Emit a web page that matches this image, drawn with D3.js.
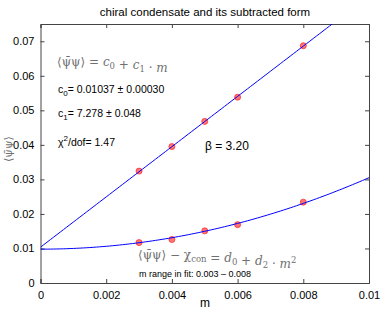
<!DOCTYPE html>
<html>
<head>
<meta charset="utf-8">
<script src="https://cdn.jsdelivr.net/npm/d3@7"></script>
<style>
  body { margin: 0; background: #fff; }
  text { font-family: "Liberation Sans", Arial, sans-serif; fill: #000; }
  .math { font-family: "DejaVu Serif", "Liberation Serif", serif; fill: #707070; }
</style>
</head>
<body>
<script>
// data
const masses = [0.003, 0.004, 0.005, 0.006, 0.008];
const condensate = [0.0324, 0.0395, 0.0468, 0.0538, 0.0687];
const subtracted = [0.0117, 0.0126, 0.0151, 0.0169, 0.0234];
const linearFit = [0.01037, 7.278];   // c0, c1
const quadFit = [0.0098, 207];        // d0, d2
const xTicks = [0, 0.002, 0.004, 0.006, 0.008, 0.01];
const yTicks = [0, 0.01, 0.02, 0.03, 0.04, 0.05, 0.06, 0.07];

const width = 382, height = 312;
const margin = {top: 24, right: 13, bottom: 29, left: 40.5};

const x = d3.scaleLinear().domain([0, 0.01]).range([margin.left, width - margin.right]);
const y = d3.scaleLinear().domain([0, 0.075]).range([height - margin.bottom, margin.top]);

const svg = d3.select("body").append("svg")
    .attr("width", width)
    .attr("height", height);

svg.append("clipPath").attr("id", "clip")
  .append("rect")
    .attr("x", x(0)).attr("y", y(0.075))
    .attr("width", x(0.01) - x(0)).attr("height", y(0) - y(0.075));

// axes with inward ticks on all four sides
const fmt = d => d === 0 ? "0" : d3.format("")(+d.toFixed(3));
svg.append("g")
    .attr("transform", "translate(0," + y(0) + ")")
    .call(d3.axisBottom(x).tickValues(xTicks).tickSize(-4).tickPadding(8).tickFormat(fmt));
svg.append("g")
    .attr("transform", "translate(" + x(0) + ",0)")
    .call(d3.axisLeft(y).tickValues(yTicks).tickSize(-4).tickPadding(6).tickFormat(fmt));
svg.append("g")
    .attr("transform", "translate(0," + y(0.075) + ")")
    .call(d3.axisTop(x).tickValues(xTicks).tickSize(-4).tickFormat(""));
svg.append("g")
    .attr("transform", "translate(" + x(0.01) + ",0)")
    .call(d3.axisRight(y).tickValues(yTicks).tickSize(-4).tickFormat(""));

svg.selectAll(".domain").attr("stroke", "#444");
svg.selectAll(".tick line").attr("stroke", "#444");
svg.selectAll(".tick text").style("font-size", "11px").attr("fill", "#000");

// data points
[condensate, subtracted].forEach(series => {
  svg.append("g").selectAll("circle")
    .data(series)
    .enter()
    .append("circle")
      .attr("cx", (d, i) => x(masses[i]))
      .attr("cy", d => y(d))
      .attr("r", 3)
      .attr("fill", "rgba(255,60,60,0.7)")
      .attr("stroke", "#ff3030")
      .attr("stroke-width", 0.8);
});

// fit curves, drawn over the points
const mGrid = d3.range(0, 0.01 + 1e-9, 0.0001);
const line = d3.line().x(d => x(d[0])).y(d => y(d[1]));
const fits = svg.append("g").attr("clip-path", "url(#clip)");
fits.append("path")
    .datum(mGrid.map(m => [m, linearFit[0] + linearFit[1] * m]))
    .attr("d", line)
    .attr("fill", "none").attr("stroke", "#0000ff").attr("stroke-width", 1);
fits.append("path")
    .datum(mGrid.map(m => [m, quadFit[0] + quadFit[1] * m * m]))
    .attr("d", line)
    .attr("fill", "none").attr("stroke", "#0000ff").attr("stroke-width", 1);

// title and axis labels
svg.append("text")
    .attr("x", 205).attr("y", 16)
    .style("text-anchor", "middle").style("font-size", "11.5px")
    .text("chiral condensate and its subtracted form");
svg.append("text")
    .attr("x", 205).attr("y", 307)
    .style("text-anchor", "middle").style("font-size", "12px")
    .text("m");
svg.append("text")
    .attr("class", "math")
    .attr("transform", "translate(12,149) rotate(-90)")
    .style("text-anchor", "middle").style("font-size", "11px")
    .text("⟨ψ̄ψ⟩");

// annotations
function sub(t, s) {
  t.append("tspan").attr("dy", 3).style("font-size", "8.5px").text(s);
  t.append("tspan").attr("dy", -3).text("");
}
const upper = svg.append("text").attr("class", "math")
    .attr("x", 57).attr("y", 66).style("font-size", "12px");
upper.append("tspan").text("⟨ψ̄ψ⟩ = ");
upper.append("tspan").attr("font-style", "italic").text("c");
sub(upper, "0");
upper.append("tspan").text(" + ");
upper.append("tspan").attr("font-style", "italic").text("c");
sub(upper, "1");
upper.append("tspan").text(" · ");
upper.append("tspan").attr("font-style", "italic").text("m");

function param(yPos, sym, subText, rest, sup) {
  const t = svg.append("text").attr("x", 58).attr("y", yPos).style("font-size", "10.5px");
  t.append("tspan").text(sym);
  if (subText) t.append("tspan").attr("dy", 3).style("font-size", "8px").text(subText);
  if (sup) t.append("tspan").attr("dy", -5).style("font-size", "8px").text(sup);
  t.append("tspan").attr("dy", subText ? -3 : 5).text(rest);
}
param(93, "c", "0", "=  0.01037 ± 0.00030");
param(117, "c", "1", "=  7.278 ± 0.048");
param(146, "χ", null, "/dof= 1.47", "2");

svg.append("text")
    .attr("x", 205).attr("y", 150).style("font-size", "12px")
    .text("β = 3.20");

const lower = svg.append("text").attr("class", "math")
    .attr("x", 138).attr("y", 259).style("font-size", "12px");
lower.append("tspan").text("⟨ψ̄ψ⟩ − χ");
sub(lower, "con");
lower.append("tspan").text("  = ");
lower.append("tspan").attr("font-style", "italic").text("d");
sub(lower, "0");
lower.append("tspan").text(" + ");
lower.append("tspan").attr("font-style", "italic").text("d");
sub(lower, "2");
lower.append("tspan").text(" · ");
lower.append("tspan").attr("font-style", "italic").text("m");
lower.append("tspan").attr("dy", -5).style("font-size", "8.5px").text("2");

svg.append("text")
    .attr("x", 139).attr("y", 277).style("font-size", "9px")
    .text("m range in fit:  0.003 – 0.008");
</script>
</body>
</html>
